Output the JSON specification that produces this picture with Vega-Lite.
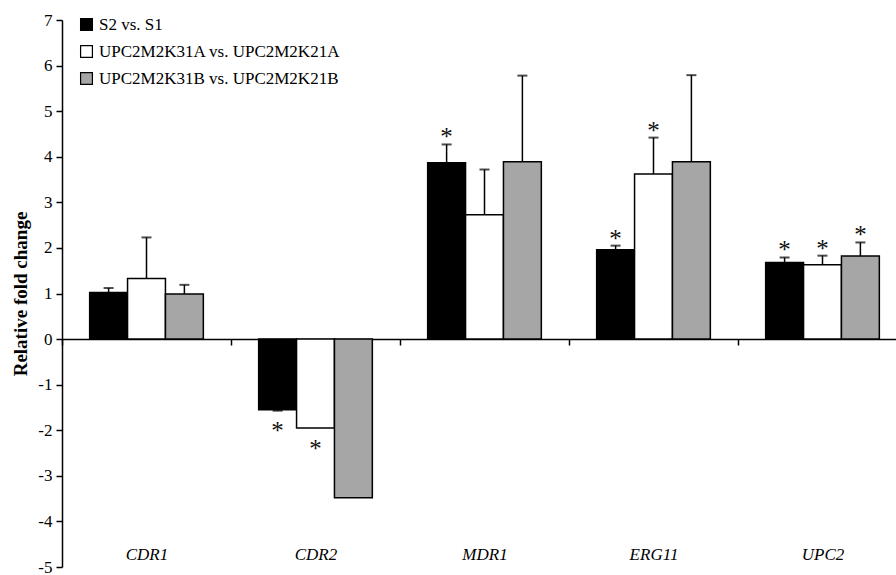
{
  "$schema": "https://vega.github.io/schema/vega-lite/v6.json",
  "width": 834,
  "height": 547,
  "autosize": {"type": "none"},
  "padding": {"left": 62, "top": 20, "right": 0, "bottom": 8},
  "background": "white",
  "config": {
    "view": {"stroke": null},
    "axis": {"labelFont": "Liberation Serif", "titleFont": "Liberation Serif", "labelColor": "black", "titleColor": "black", "domainColor": "black", "tickColor": "black", "grid": false, "domainWidth": 1.5, "tickWidth": 1.5},
    "legend": {"labelFont": "Liberation Serif", "labelColor": "black"}
  },
  "data": {
    "values": [
      {"gene": "CDR1", "grp": "S2 vs. S1", "value": 1.02, "err": 1.12, "star": false},
      {"gene": "CDR1", "grp": "UPC2M2K31A vs. UPC2M2K21A", "value": 1.33, "err": 2.23, "star": false},
      {"gene": "CDR1", "grp": "UPC2M2K31B vs. UPC2M2K21B", "value": 0.99, "err": 1.19, "star": false},
      {"gene": "CDR2", "grp": "S2 vs. S1", "value": -1.55, "err": -1.57, "star": true},
      {"gene": "CDR2", "grp": "UPC2M2K31A vs. UPC2M2K21A", "value": -1.95, "err": null, "star": true},
      {"gene": "CDR2", "grp": "UPC2M2K31B vs. UPC2M2K21B", "value": -3.48, "err": null, "star": false},
      {"gene": "MDR1", "grp": "S2 vs. S1", "value": 3.87, "err": 4.27, "star": true},
      {"gene": "MDR1", "grp": "UPC2M2K31A vs. UPC2M2K21A", "value": 2.73, "err": 3.72, "star": false},
      {"gene": "MDR1", "grp": "UPC2M2K31B vs. UPC2M2K21B", "value": 3.89, "err": 5.78, "star": false},
      {"gene": "ERG11", "grp": "S2 vs. S1", "value": 1.96, "err": 2.05, "star": true},
      {"gene": "ERG11", "grp": "UPC2M2K31A vs. UPC2M2K21A", "value": 3.62, "err": 4.42, "star": true},
      {"gene": "ERG11", "grp": "UPC2M2K31B vs. UPC2M2K21B", "value": 3.89, "err": 5.79, "star": false},
      {"gene": "UPC2", "grp": "S2 vs. S1", "value": 1.68, "err": 1.79, "star": true},
      {"gene": "UPC2", "grp": "UPC2M2K31A vs. UPC2M2K21A", "value": 1.63, "err": 1.83, "star": true},
      {"gene": "UPC2", "grp": "UPC2M2K31B vs. UPC2M2K21B", "value": 1.82, "err": 2.12, "star": true}
    ]
  },
  "encoding": {
    "x": {
      "field": "gene", "type": "nominal", "sort": ["CDR1", "CDR2", "MDR1", "ERG11", "UPC2"],
      "scale": {"range": [0, 845], "paddingInner": 0, "paddingOuter": 0},
      "axis": {"title": null, "orient": "bottom", "offset": -228, "tickBand": "extent", "labelAngle": 0, "labelFontStyle": "italic", "labelFontSize": 17, "labelPadding": 201, "tickSize": 6}
    },
    "xOffset": {
      "field": "grp", "type": "nominal",
      "scale": {"domain": ["S2 vs. S1", "UPC2M2K31A vs. UPC2M2K21A", "UPC2M2K31B vs. UPC2M2K21B"], "paddingInner": 0, "paddingOuter": 0.73}
    }
  },
  "layer": [
    {
      "mark": {"type": "bar", "stroke": "black", "strokeWidth": 1.5},
      "encoding": {
        "y": {
          "field": "value", "type": "quantitative",
          "scale": {"domain": [-5, 7], "nice": false},
          "axis": {"values": [-5, -4, -3, -2, -1, 0, 1, 2, 3, 4, 5, 6, 7], "labelExpr": "'' + datum.value", "title": "Relative fold change", "titleFontSize": 19, "titleFontWeight": "bold", "titlePadding": 7, "labelFontSize": 17, "labelPadding": 4, "tickSize": 6}
        },
        "fill": {
          "field": "grp", "type": "nominal",
          "scale": {"domain": ["S2 vs. S1", "UPC2M2K31A vs. UPC2M2K21A", "UPC2M2K31B vs. UPC2M2K21B"], "range": ["#000000", "#ffffff", "#a6a6a6"]},
          "legend": {"title": null, "orient": "none", "legendX": 16, "legendY": -4, "symbolType": "square", "symbolSize": 140, "symbolStrokeColor": "black", "symbolStrokeWidth": 1.2, "labelFontSize": 17, "labelOffset": 4, "labelLimit": 0, "rowPadding": 9}
        }
      }
    },
    {
      "transform": [{"filter": "datum.err != null"}],
      "mark": {"type": "rule", "color": "black", "strokeWidth": 1.5},
      "encoding": {
        "y": {"field": "value", "type": "quantitative"},
        "y2": {"field": "err"}
      }
    },
    {
      "transform": [{"filter": "datum.err != null"}],
      "mark": {"type": "tick", "color": "black", "size": 10, "thickness": 2},
      "encoding": {
        "y": {"field": "err", "type": "quantitative"}
      }
    },
    {
      "transform": [{"filter": "datum.star && datum.value > 0"}],
      "mark": {"type": "text", "text": "*", "font": "Liberation Serif", "fontSize": 25, "color": "#111", "baseline": "middle", "dy": -7},
      "encoding": {
        "y": {"field": "err", "type": "quantitative"}
      }
    },
    {
      "transform": [{"filter": "datum.star && datum.value < 0"}],
      "mark": {"type": "text", "text": "*", "font": "Liberation Serif", "fontSize": 25, "color": "#111", "baseline": "middle", "dy": 21},
      "encoding": {
        "y": {"field": "value", "type": "quantitative"}
      }
    }
  ]
}
